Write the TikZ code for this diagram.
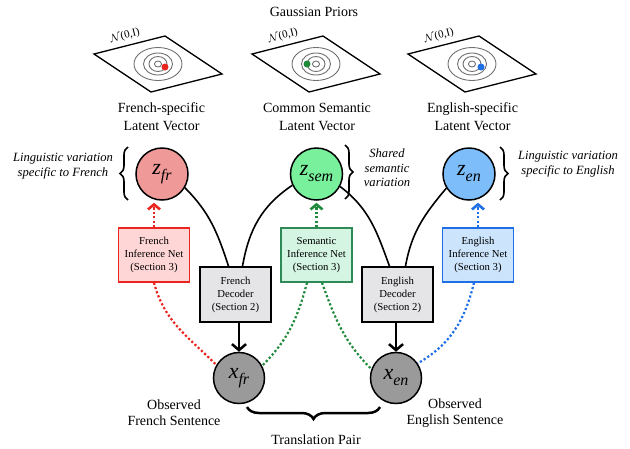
\documentclass[tikz,border=0pt]{standalone}
\usepackage{fontspec}
\setmainfont{Liberation Serif}
\usetikzlibrary{arrows.meta,decorations.pathreplacing,calc}

\definecolor{zfrfill}{HTML}{EF9A98}
\definecolor{zsemfill}{HTML}{78F09C}
\definecolor{zenfill}{HTML}{7DBEFA}
\definecolor{xfill}{HTML}{9A9A9A}
\definecolor{redline}{HTML}{E8251F}
\definecolor{redfill}{HTML}{FFD6D6}
\definecolor{greenline}{HTML}{1F8A3B}
\definecolor{greenbox}{HTML}{2E8B57}
\definecolor{greenfill}{HTML}{D5F5E3}
\definecolor{blueline}{HTML}{1E6FE6}
\definecolor{bluefill}{HTML}{CDE5FC}
\definecolor{decfill}{HTML}{E5E5E8}
\definecolor{ringgray}{HTML}{707070}

\newcommand\varlab[2]{\fontsize{22}{22}\selectfont\itshape #1\raisebox{-6pt}{\fontsize{16}{16}\selectfont #2}}

\begin{document}
\begin{tikzpicture}[x=1pt,y=-1pt,
  latent/.style={circle, draw, line width=1.5pt, minimum size=52pt, inner sep=0pt},
  obs/.style={circle, draw, line width=1.5pt, minimum size=51pt, inner sep=0pt, fill=xfill},
  netbox/.style={rectangle, line width=1.5pt, minimum width=71pt, minimum height=54pt, inner sep=0pt, align=center, font=\fontsize{10.7}{13}\selectfont},
  decbox/.style={netbox, draw=black, fill=decfill, minimum height=55pt},
  lab/.style={align=center, font=\fontsize{14}{18}\selectfont},
  oblab/.style={align=center, font=\fontsize{14}{16}\selectfont},
  itlab/.style={align=center, font=\fontsize{12.6}{14.5}\selectfont\itshape},
  curve/.style={line width=1.6pt},
  decarrow/.style={line width=2.5pt, -{Straight Barb[length=6pt,width=14pt]}},
  dotline/.style={line width=2.2pt, dash pattern=on 2.2pt off 2.2pt},
  dotarrow/.style={dotline, -{Straight Barb[length=5pt,width=12pt,line width=2.6pt]}},
  sidebrace/.style={decorate, decoration={brace, amplitude=8pt}, line width=1.6pt},
  bottombrace/.style={decorate, decoration={brace, amplitude=12pt}, line width=2.5pt},
  ring/.style={draw=ringgray, line width=0.9pt},
  plane/.style={line width=1.3pt}
]
\useasboundingbox (0,0) rectangle (630,448);

% Title
\node[lab] (title) at (314,12) {Gaussian Priors};

% Priors
\foreach \cx/\dx/\dy/\col/\n in {158/7/3/redline/p1, 316/-9/0/greenline/p2, 472/9/3/blueline/p3} {
  \begin{scope}[shift={(\cx,64)}]
    \draw[plane] (-64,-10) -- (7,-28) -- (64,10) -- (-7,28) -- cycle;
    \draw[ring] (0,0) ellipse [x radius=24, y radius=16.5];
    \draw[ring] (0,0) ellipse [x radius=14.5, y radius=11];
    \draw[ring] (0,0) ellipse [x radius=9, y radius=7.5];
    \draw[ring] (0,0) ellipse [x radius=3.5, y radius=3];
    \fill[\col] (\dx,\dy) circle (3.5);
    \node[rotate=14, font=\fontsize{11}{11}\selectfont, inner sep=0pt] (\n n) at (-33,-28) {$\mathcal{N}$(0,I)};
  \end{scope}
}

\node[lab] (l1) at (161.5,117) {French-specific\\Latent Vector};
\node[lab] (l2) at (317,117) {Common Semantic\\Latent Vector};
\node[lab] (l3) at (472.5,117) {English-specific\\Latent Vector};

% Latent nodes
\node[latent, fill=zfrfill] (zfr) at (162,174) {\varlab{z}{fr}};
\node[latent, fill=zsemfill] (zsem) at (316.5,174) {\varlab{z}{sem}};
\node[latent, fill=zenfill] (zen) at (469,174) {\varlab{z}{en}};

% Side labels
\node[itlab] (t1) at (63,166) {Linguistic variation\\specific to French};
\node[itlab] (t2) at (387,168) {Shared\\semantic\\variation};
\node[itlab] (t3) at (568,164) {Linguistic variation\\specific to English};

\draw[sidebrace] (128,200) -- (128,147);
\draw[sidebrace] (345,145) -- (345,199);
\draw[sidebrace] (500,147) -- (500,200);

% Boxes
\node[netbox, draw=redline, fill=redfill] (fin) at (154,255) {French\\Inference Net\\(Section 3)};
\node[netbox, draw=greenbox, fill=greenfill] (sin) at (316.5,255) {Semantic\\Inference Net\\(Section 3)};
\node[netbox, draw=blueline, fill=bluefill] (ein) at (478,255) {English\\Inference Net\\(Section 3)};
\node[decbox] (fdec) at (235.5,294.5) {French\\Decoder\\(Section 2)};
\node[decbox] (edec) at (397.5,294.5) {English\\Decoder\\(Section 2)};

% Observed nodes
\node[obs] (xfr) at (239,378) {\varlab{x}{fr}};
\node[obs] (xen) at (396,378) {\varlab{x}{en}};

\node[oblab] (o1) at (174,413) {Observed\\French Sentence};
\node[oblab] (o2) at (455,413) {Observed\\English Sentence};
\node[oblab] (tp) at (316,440) {Translation Pair};
\draw[bottombrace] (380,407) -- (247,407);

% Solid decoder connections
\draw[curve] (zfr.-31) to[out=-45,in=108] ($(fdec.north)+(-7,0)$);
\draw[curve] (zsem.205) to[out=214,in=80] ($(fdec.north)+(7,0)$);
\draw[curve] (zsem.-28) to[out=-37,in=110] ($(edec.north)+(-8,0)$);
\draw[curve] (zen.212) to[out=230,in=80] ($(edec.north)+(8,0)$);

\draw[decarrow] (xfr.north |- fdec.south) -- (xfr.north);
\draw[decarrow] (xen.north |- edec.south) -- (xen.north);

% Inference arrows
\draw[dotarrow, redline] (fin.north) -- ([yshift=-2pt]fin.north |- zfr.south);
\draw[dotarrow, greenline] (sin.north) -- ([yshift=-2pt]sin.north |- zsem.south);
\draw[dotarrow, blueline] (ein.north) -- ([yshift=-2pt]ein.north |- zen.south);

\draw[dotline, redline] (fin.south) to[out=-75,in=135] (xfr.150);
\draw[dotline, greenline] ($(sin.south)+(-9.5,0)$) to[out=255,in=45] (xfr.28);
\draw[dotline, greenline] ($(sin.south)+(5.5,0)$) to[out=-70,in=135] (xen.160);
\draw[dotline, blueline] ($(ein.south)+(-4,0)$) to[out=256,in=30] (xen.34);
\end{tikzpicture}
\end{document}
